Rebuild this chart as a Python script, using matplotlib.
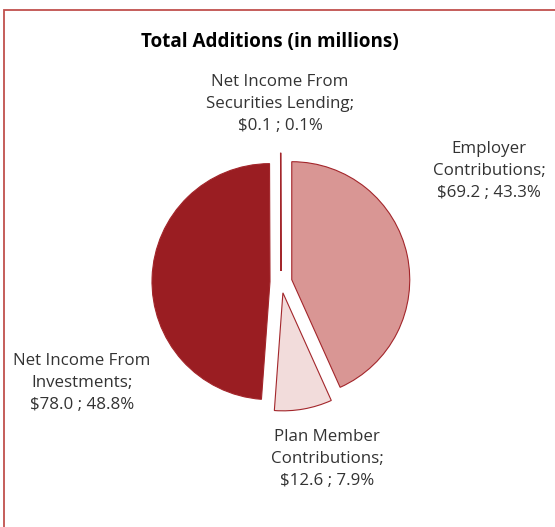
import matplotlib.pyplot as plt
from matplotlib.patches import Rectangle

# additions, in millions of dollars (clockwise from 12 o'clock)
categories = ["Employer\nContributions", "Plan Member\nContributions",
              "Net Income From\nInvestments", "Net Income From\nSecurities Lending"]
values = [69.2, 12.6, 78.0, 0.1]

colors = ["#d99694", "#f2dcdb", "#9a1d22", "#9a1d22"]
label_pos = [(489, 171), (327, 459), (82, 383), (280, 104)]   # pixel centres, y from top

W, H = 555, 527
plt.rcParams["font.family"] = ["Open Sans", "DejaVu Sans"]

fig = plt.figure(figsize=(W / 100, H / 100), dpi=100)
ax = fig.add_axes([0, 0, 1, 1])

total = sum(values)
ax.pie(values, colors=colors, startangle=90, counterclock=False,
       center=(281, H - 282), radius=118, explode=[11] * len(values),
       wedgeprops=dict(edgecolor="#a3262b", linewidth=0.8), frame=True)
ax.set_xlim(0, W)
ax.set_ylim(0, H)
ax.set_aspect("equal")
ax.axis("off")

for name, v, (x, y) in zip(categories, values, label_pos):
    ax.text(x, H - y, f"{name};\n${v:.1f} ; {100 * v / total:.1f}%",
            ha="center", va="center", fontsize=12.2, color="#333333",
            linespacing=1.53)

ax.text(270, H - 42, "Total Additions (in millions)", ha="center", va="center",
        fontsize=13.6, fontweight="bold", color="black")

# chart frame
ax.add_patch(Rectangle((3.5, -20), 600, H - 9.5 + 20, fill=False,
                       edgecolor="#c0504d", linewidth=1.3, clip_on=False))

fig.savefig("out.png", dpi=100)
